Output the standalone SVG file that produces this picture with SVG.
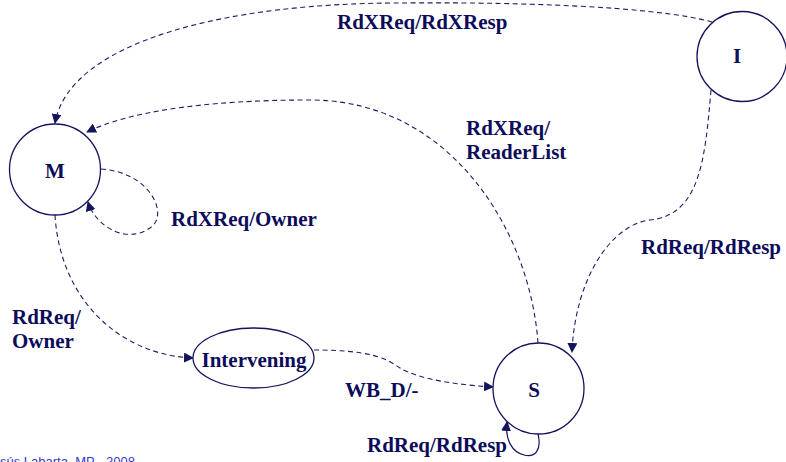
<svg xmlns="http://www.w3.org/2000/svg" width="786" height="462" viewBox="0 0 786 462">
  <style>
    .state { fill: #ffffff; stroke: #14145c; stroke-width: 1.3; }
    .name { font-family: "Liberation Serif", "Times New Roman", serif; font-weight: bold; font-size: 21px; fill: #0c0c5a; }
    .lbl { font-family: "Liberation Serif", "Times New Roman", serif; font-weight: bold; font-size: 21px; fill: #0c0c5a; }
    .edge { fill: none; stroke: #1e1e66; stroke-width: 1.1; stroke-dasharray: 5 3.5; }
    .solid { fill: none; stroke: #14145c; stroke-width: 1.2; }
    .foot { font-family: "Liberation Sans", Arial, sans-serif; font-size: 13px; fill: #3a3ac8; }
  </style>
  <defs>
    <marker id="arrow" viewBox="0 0 10 10" refX="9" refY="5" markerWidth="10" markerHeight="10" markerUnits="userSpaceOnUse" orient="auto">
      <path d="M0,0 L10,5 L0,10 z" fill="#14145c"/>
    </marker>
  </defs>

  <rect width="786" height="462" fill="#ffffff"/>

  <!-- transitions -->
  <g id="connectors">
    <!-- I to M -->
    <path class="edge" marker-end="url(#arrow)" d="M712,22 C650,5 500,2 400,3 C230,3 70,40 55,123"/>
    <!-- S to M -->
    <path class="edge" marker-end="url(#arrow)" d="M538,343 C530,230 450,100 310,100 C200,100 125,113 87,132"/>
    <!-- I to S -->
    <path class="edge" marker-end="url(#arrow)" d="M711,90 C705,160 700,215 650,220 C610,225 575,280 572,352"/>
    <!-- M self loop -->
    <path class="edge" marker-end="url(#arrow)" d="M101,169 C150,172 170,215 150,228 C125,245 95,225 88,202"/>
    <!-- M to Intervening -->
    <path class="edge" marker-end="url(#arrow)" d="M55,215 C60,300 120,355 193,358"/>
    <!-- Intervening to S -->
    <path class="edge" marker-end="url(#arrow)" d="M314,350 C380,350 390,362 400,368 C420,380 460,385 493,387"/>
    <!-- S self loop -->
    <path class="solid" marker-end="url(#arrow)" d="M538,434 C542,450 535,458 524,455 C512,452 505,440 507,422"/>
  </g>

  <g id="node-M">
    <circle class="state" cx="55" cy="169.5" r="45.5"/>
    <text class="name" x="55" y="178" text-anchor="middle">M</text>
  </g>
  <g id="node-I">
    <circle class="state" cx="742" cy="56.5" r="45"/>
    <text class="name" x="737" y="63" text-anchor="middle">I</text>
  </g>
  <g id="node-S">
    <circle class="state" cx="538.5" cy="388.5" r="45.5"/>
    <text class="name" x="534" y="397" text-anchor="middle">S</text>
  </g>
  <g id="node-Intervening">
    <ellipse class="state" cx="253.5" cy="358" rx="60.5" ry="30"/>
    <text class="name" x="254" y="367" text-anchor="middle">Intervening</text>
  </g>

  <g id="labels">
    <text class="lbl" x="337" y="29">RdXReq/RdXResp</text>
    <text class="lbl" x="466" y="135">RdXReq/</text>
    <text class="lbl" x="466" y="159">ReaderList</text>
    <text class="lbl" x="171" y="226">RdXReq/Owner</text>
    <text class="lbl" x="641" y="254">RdReq/RdResp</text>
    <text class="lbl" x="12" y="324">RdReq/</text>
    <text class="lbl" x="12" y="348">Owner</text>
    <text class="lbl" x="345" y="397">WB_D/-</text>
    <text class="lbl" x="367" y="452">RdReq/RdResp</text>
  </g>

  <text class="foot" x="0" y="466">sús Labarta, MP - 2008</text>
</svg>
